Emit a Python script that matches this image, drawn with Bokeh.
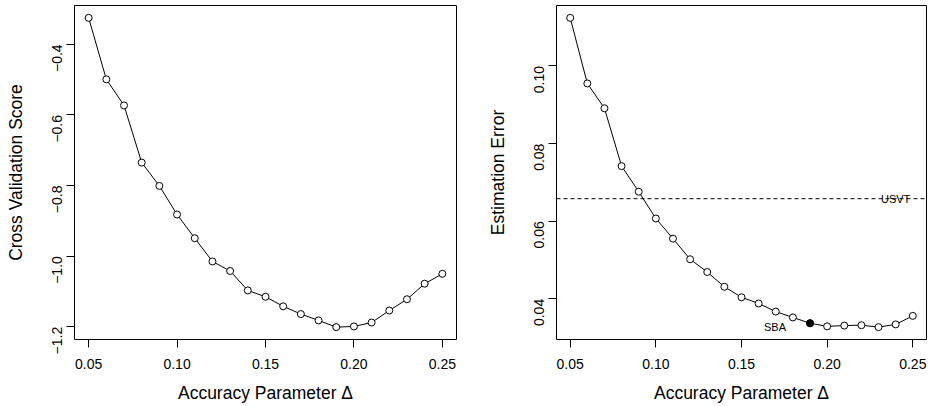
from bokeh.plotting import figure
from bokeh.layouts import row
from bokeh.models import Span, Range1d, FixedTicker
from bokeh.embed import file_html
from bokeh.resources import INLINE
from bokeh.core.properties import value
import math

# ---- data ----
delta = [0.05, 0.06, 0.07, 0.08, 0.09, 0.10, 0.11, 0.12, 0.13, 0.14, 0.15,
         0.16, 0.17, 0.18, 0.19, 0.20, 0.21, 0.22, 0.23, 0.24, 0.25]
cv_score = [-0.325, -0.499, -0.573, -0.735, -0.801, -0.882, -0.949, -1.015,
            -1.042, -1.097, -1.115, -1.142, -1.164, -1.182, -1.201, -1.199,
            -1.188, -1.154, -1.122, -1.078, -1.050]
est_error = [0.1124, 0.0955, 0.0891, 0.0742, 0.0676, 0.0607, 0.0555, 0.0502,
             0.0469, 0.0431, 0.0404, 0.0388, 0.0367, 0.0352, 0.0337, 0.0329,
             0.0331, 0.0332, 0.0327, 0.0334, 0.0356]
usvt_error = 0.0658
sba_delta = 0.19
sba_error = 0.0337

x_ticks = [0.05, 0.10, 0.15, 0.20, 0.25]
x_tick_labels = ["0.05", "0.10", "0.15", "0.20", "0.25"]
left_y_ticks = [-0.4, -0.6, -0.8, -1.0, -1.2]
left_y_tick_labels = ["\u22120.4", "\u22120.6", "\u22120.8", "\u22121.0", "\u22121.2"]
right_y_ticks = [0.04, 0.06, 0.08, 0.10]
right_y_tick_labels = ["0.04", "0.06", "0.08", "0.10"]

FONT = "Liberation Sans"


def pad_range(vals, frac=0.04):
    lo, hi = min(vals), max(vals)
    d = (hi - lo) * frac
    return Range1d(lo - d, hi + d)


def style(p, yticks, ylabels, ylab):
    p.xaxis.axis_label = "Accuracy Parameter \u0394"
    p.yaxis.axis_label = ylab
    p.xaxis.ticker = FixedTicker(ticks=x_ticks)
    p.xaxis.major_label_overrides = {t: l for t, l in zip(x_ticks, x_tick_labels)}
    p.yaxis.ticker = FixedTicker(ticks=yticks)
    p.yaxis.major_label_overrides = {t: l for t, l in zip(yticks, ylabels)}
    p.yaxis.major_label_orientation = math.pi / 2
    for ax in (p.xaxis[0], p.yaxis[0]):
        ax.axis_line_color = None
        ax.major_tick_out = 8
        ax.major_tick_in = 0
        ax.minor_tick_out = 0
        ax.minor_tick_in = 0
        ax.major_tick_line_color = "black"
        ax.major_label_text_font = FONT
        ax.major_label_text_font_size = "14px"
        ax.major_label_text_color = "black"
        ax.axis_label_text_font = FONT
        ax.axis_label_text_font_size = "17.5px"
        ax.axis_label_text_font_style = "normal"
        ax.axis_label_text_color = "black"
    p.xaxis.major_label_standoff = 11
    p.xaxis.axis_label_standoff = 11
    p.yaxis.major_label_standoff = 9
    p.yaxis.axis_label_standoff = 19
    p.xgrid.visible = False
    p.ygrid.visible = False
    p.outline_line_color = "black"
    p.outline_line_width = 1
    p.background_fill_color = "white"
    p.border_fill_color = "white"


# ---- left plot ----
p1 = figure(width=470, height=405, output_backend="svg", toolbar_location=None,
            x_range=pad_range(delta), y_range=pad_range(cv_score),
            min_border_left=74, min_border_right=14, min_border_top=5,
            min_border_bottom=66)
style(p1, left_y_ticks, left_y_tick_labels, "Cross Validation Score")
p1.line(delta, cv_score, line_color="black", line_width=1)
p1.scatter(delta, cv_score, size=7, marker="circle", fill_color="white",
           line_color="black", line_width=1)

# ---- right plot ----
p2 = figure(width=460, height=405, output_backend="svg", toolbar_location=None,
            x_range=pad_range(delta), y_range=pad_range(est_error),
            min_border_left=86, min_border_right=4, min_border_top=5,
            min_border_bottom=66)
style(p2, right_y_ticks, right_y_tick_labels, "Estimation Error")
p2.add_layout(Span(location=usvt_error, dimension="width", line_color="black",
                   line_width=1, line_dash="4 3"))
p2.line(delta, est_error, line_color="black", line_width=1)
p2.scatter(delta, est_error, size=7, marker="circle", fill_color="white",
           line_color="black", line_width=1)
p2.scatter([sba_delta], [sba_error], size=7, marker="circle", fill_color="black",
           line_color="black", line_width=1)
p2.text(x=[0.24], y=[usvt_error], text=["USVT"], text_align="center",
        text_baseline="alphabetic", text_font=value(FONT),
        text_font_size="11px", text_color="black")
p2.text(x=[sba_delta], y=[sba_error], text=["SBA"], text_align="right",
        text_baseline="middle", x_offset=-24, y_offset=4,
        text_font=value(FONT), text_font_size="11px", text_color="black")

layout = row(p1, p2)
open("out.html", "w").write(file_html(layout, INLINE))
